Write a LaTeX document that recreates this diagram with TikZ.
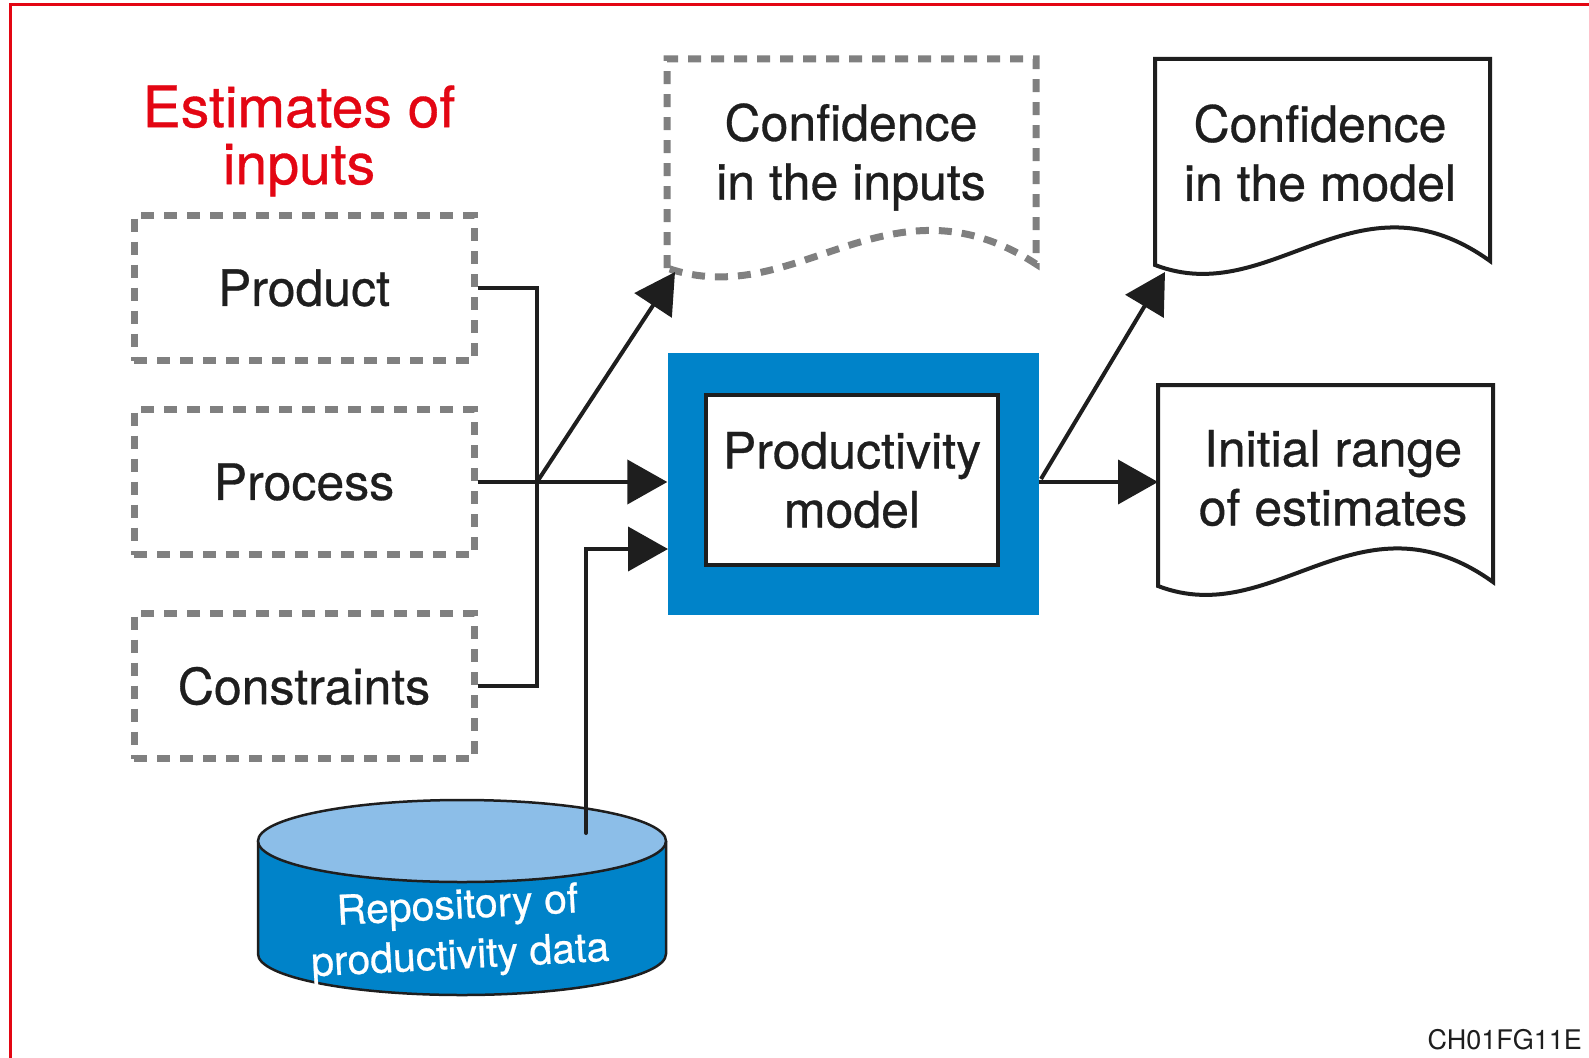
\documentclass[tikz,border=0pt]{standalone}
\usepackage{fontspec}
\setmainfont{TeX Gyre Heros}
\newfontfamily\medfont{TeX Gyre Heros}[FakeBold=0.6]
\usetikzlibrary{arrows.meta}

\definecolor{ink}{RGB}{30,30,30}
\definecolor{dashgray}{RGB}{128,128,128}
\definecolor{modelblue}{RGB}{0,131,201}
\definecolor{toplight}{RGB}{140,190,232}
\definecolor{framered}{RGB}{227,6,19}

\tikzset{
  txt/.style = {align=center, text=ink, font=\medfont\fontsize{50}{59}\selectfont},
  inbox/.style = {txt, draw=dashgray, line width=7pt, dash pattern=on 13pt off 10pt,
                  minimum width=340pt, minimum height=145pt},
  docline/.style = {draw=ink, line width=4pt, line join=miter},
  docdash/.style = {draw=dashgray, line width=7pt, dash pattern=on 13pt off 10pt},
  conn/.style = {draw=ink, line width=4pt},
  arr/.style = {conn, -{Triangle[length=40pt,width=44pt]}}
}

\begin{document}
\begin{tikzpicture}[x=1pt, y=-1pt]
\useasboundingbox (0,0) rectangle (1589,1057);

% frame
\draw[framered, line width=3pt] (10,1080) -- (10,5) -- (1600,5);

% inputs
\node[txt, text=framered, font=\medfont\fontsize{57}{57}\selectfont] (title) at (299,141) {Estimates of\\inputs};
\node[inbox] (prod) at (304,288) {Product};
\node[inbox] (proc) at (304,482) {Process};
\node[inbox] (cons) at (304,686) {Constraints};

% productivity model
\node[fill=modelblue, minimum width=371pt, minimum height=262pt] (model) at (853,484) {};
\node[txt, fill=white, draw=ink, line width=4.5pt, minimum width=292pt, minimum height=170pt] (inner) at (852,480) {Productivity\\model};

% documents
\draw[docdash] (667,268) -- (667,59) -- (1036,59) -- (1036,264)
  .. controls (888,168) and (796,313) .. (667,268);
\node[txt] (cin) at (851,157) {Confidence\\in the inputs};

\draw[docline, fill=white] (1155,265) -- (1155,59) -- (1490,59) -- (1490,261)
  .. controls (1356,165) and (1272,310) .. (1155,265) -- cycle;
\node[txt] (cmod) at (1320,153) {Confidence\\in the model};

\draw[docline, fill=white] (1158,586) -- (1158,385) -- (1493,385) -- (1493,582)
  .. controls (1359,486) and (1275,631) .. (1158,586) -- cycle;
\node[txt] (range) at (1333,478) {Initial range\\of estimates};

% repository
\fill[modelblue] (258,841) -- (258,954) arc[start angle=180, end angle=360, x radius=204pt, y radius=41pt] -- (666,841) -- cycle;
\draw[ink, line width=2.5pt] (258,841) -- (258,954) arc[start angle=180, end angle=360, x radius=204pt, y radius=41pt] -- (666,841);
\draw[ink, line width=2.5pt, fill=toplight] (462,841) ellipse[x radius=204pt, y radius=41pt];
\node[text=white, align=center, font=\medfont\fontsize{41}{50}\selectfont, rotate=3] (repo) at (459,933) {Repository of\\productivity data};

% connectors
\coordinate (j) at (537,482);
\coordinate (cin-in) at (675,272);
\coordinate (cmod-in) at (1165,272);
\coordinate (range-in) at (1158,482);
\coordinate (repo-top) at (586,833);
\coordinate (model-in) at (668,549);
\coordinate (model-out) at (1041,479);

\draw[conn] (prod.east) -| (j) |- (cons.east);
\draw[arr] (proc.east) -- (proc.east -| model.west);
\draw[arr] (j) -- (cin-in);
\draw[arr, line cap=round] (repo-top) |- (model-in);
\draw[arr] (model-out) -- (cmod-in);
\draw[arr] (model.east |- proc.east) -- (range-in);

\node[anchor=base west, text=ink, font=\fontsize{27}{30}\selectfont] (code) at (1424,1049) {CH01FG11E};
\end{tikzpicture}
\end{document}
